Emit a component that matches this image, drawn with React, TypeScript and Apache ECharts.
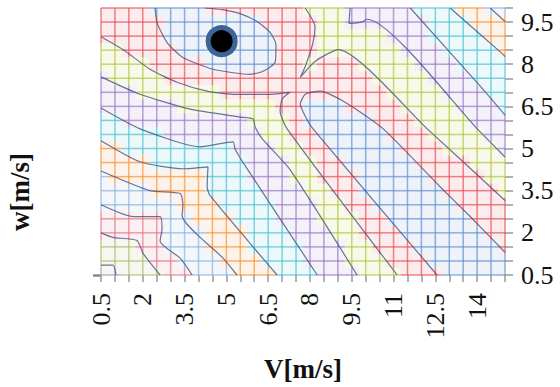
import React, { useEffect, useRef } from "react";
import * as echarts from "echarts";

// mesh node positions
const meshV = [0.5, 1, 1.5, 2, 2.5, 3, 3.5, 4, 4.5, 5, 5.5, 6, 6.5, 7, 7.5, 8, 8.5, 9, 9.5, 10, 10.5, 11, 11.5, 12, 12.5, 13, 13.5, 14, 14.5, 15];
const meshW = [10, 9.5, 9, 8.5, 8, 7.5, 7, 6.5, 6, 5.5, 5, 4.5, 4, 3.5, 3, 2.5, 2, 1.5, 1, 0.5];

// contour band index at every mesh node (row = w from top, column = V)
const bandRows = [
  "111100001111111222333334445566",
  "111110000000111122333333444555",
  "111110000000011122222333444455",
  "221111000000011122222233344445",
  "222211110000011211122223334444",
  "322221111111111111112222333444",
  "333222222111111111111222233344",
  "333333222222211000111122223334",
  "443333333332221000001112222333",
  "444443333333221100000111222233",
  "554444444433322110000011122223",
  "555544444443332211000001111222",
  "655555554443332211100000111122",
  "666655554444333221100000011112",
  "666666555444433322110000001111",
  "777776655544433322211000000111",
  "777776665554443332211100000011",
  "888776665554444333221110000001",
  "888877666555444333222111000000",
  "998887766655544433322211100000",
];

// contour lines [V, w]
const contourMin = [[2.44, 10], [2.51, 9.48], [2.87, 8.77], [3.44, 8.24], [4.52, 7.82], [5.85, 7.64], [6.32, 7.75], [6.75, 8.07], [6.78, 8.7], [6.57, 9.13], [6.1, 9.52], [5.49, 9.8], [4.84, 9.94], [4.23, 10]];
const contourValley = [[12.56, 0.5], [8.11, 5.7], [7.83, 6.15], [7.65, 6.58], [7.83, 6.93], [8.36, 7.04], [9.26, 6.65], [10.63, 5.7], [12.67, 3.64], [13.75, 2.58], [14.93, 1.38], [15, 1.31]];
const contour2A = [[0.5, 8.98], [1.29, 8.52], [2.26, 7.82], [3.23, 7.36], [4.31, 7.04], [5.24, 6.93], [6.57, 6.93], [7.29, 7.0], [7.0, 6.76], [6.93, 6.33], [7.18, 5.7], [11.13, 0.5]];
const contour2B = [[7.83, 10], [8.18, 9.34], [8.11, 8.77], [7.83, 7.92], [7.65, 7.53], [8.18, 8.1], [9.01, 8.52], [12.21, 5.7], [15, 3.15]];
const contour3L = [[0.5, 7.55], [1.9, 6.93], [3.7, 6.4], [5.49, 6.12], [5.96, 6.05], [6.03, 5.77], [6.28, 5.35], [7.29, 4.24], [9.69, 0.5]];
const contour3R = [[9.44, 10], [9.4, 9.45], [9.85, 9.5], [10.05, 9.6], [14.11, 5.59], [15, 4.7]];
const contour4L = [[0.5, 6.44], [1.9, 5.7], [4.05, 5.06], [5.24, 5.24], [5.31, 4.99], [5.6, 4.5], [8.26, 0.5]];
const contour4R = [[11.6, 10], [14.11, 7.22], [15, 6.19]];
const contour5L = [[0.5, 5.28], [1.9, 4.53], [3.44, 4.28], [4.34, 4.35], [4.31, 3.64], [4.41, 3.33], [6.82, 0.5]];
const contour5R = [[13.03, 10], [14.93, 8.35], [15, 8.27]];
const contour6L = [[0.5, 4.2], [2.26, 3.5], [3.34, 3.4], [3.44, 2.97], [3.41, 2.62], [4.88, 1.1], [5.38, 0.5]];
const contour6R = [[14.47, 10], [15, 9.52]];
const contour7 = [[0.5, 3.0], [1.65, 2.58], [2.62, 2.58], [2.69, 2.15], [2.62, 1.7], [3.34, 1.1], [3.77, 0.5]];
const contour8 = [[0.5, 2.0], [0.93, 1.84], [1.79, 1.73], [2.01, 1.27], [2.62, 0.5]];
const contour9 = [[0.5, 0.85], [0.93, 0.85], [1.04, 0.5]];

const contours = [contourMin, contourValley, contour2A, contour2B, contour3L, contour3R, contour4L, contour4R, contour5L, contour5R, contour6L, contour6R, contour7, contour8, contour9];

const optimumPoint = [4.83, 8.82];

const xTickLabels = ["0.5", "2", "3.5", "5", "6.5", "8", "9.5", "11", "12.5", "14"];
const yTickLabels = ["0.5", "2", "3.5", "5", "6.5", "8", "9.5"];

const bandColors = ["#5a8ad0", "#e2494e", "#b3c23a", "#9474c2", "#45bfd0", "#f68d2e", "#86b0dc", "#e2707f", "#a9b86a", "#9a9a9a"];

function hexToRgba(hex: string, a: number) {
  const n = parseInt(hex.slice(1), 16);
  return `rgba(${(n >> 16) & 255},${(n >> 8) & 255},${n & 255},${a})`;
}

const FONT = "'Liberation Serif', 'DejaVu Serif', serif";

export default function App() {
  const ref = useRef<HTMLDivElement>(null);

  useEffect(() => {
    if (!ref.current) return;
    const chart = echarts.init(ref.current, undefined, { renderer: "svg" });

    const tiles: number[][] = [];
    const segs: number[][] = [];
    for (let i = 0; i < meshW.length; i++) {
      for (let j = 0; j < meshV.length; j++) {
        const b = +bandRows[i][j];
        const v = meshV[j];
        const w = meshW[i];
        tiles.push([v, w, b]);
        if (j < meshV.length - 1) {
          const vn = meshV[j + 1];
          const mid = (v + vn) / 2;
          segs.push([v, w, mid, w, b]);
          segs.push([mid, w, vn, w, +bandRows[i][j + 1]]);
        }
        if (i < meshW.length - 1) {
          const wn = meshW[i + 1];
          const mid = (w + wn) / 2;
          segs.push([v, w, v, mid, b]);
          segs.push([v, mid, v, wn, +bandRows[i + 1][j]]);
        }
      }
    }

    const fmt = (set: string[]) => (val: number) => {
      const s = String(+val.toFixed(2));
      return set.indexOf(s) >= 0 ? s : "";
    };

    const contourSeries = contours.map((c) => ({
      type: "line",
      data: c,
      showSymbol: false,
      symbol: "none",
      smooth: 0.2,
      silent: true,
      z: 4,
      lineStyle: { color: "rgba(66,78,128,0.78)", width: 1.2 },
    }));

    const option: any = {
      animation: false,
      backgroundColor: "#ffffff",
      grid: { left: 101, right: 55, top: 8, bottom: 110, containLabel: false },
      xAxis: {
        type: "value",
        min: 0.5,
        max: 15,
        interval: 0.5,
        name: "V[m/s]",
        nameLocation: "middle",
        nameGap: 80,
        nameTextStyle: { fontFamily: FONT, fontSize: 27, fontWeight: "bold", color: "#111" },
        axisLine: { show: false },
        axisTick: { show: true, length: 7, lineStyle: { color: "#999", width: 1.5 } },
        splitLine: { show: false },
        axisLabel: { formatter: fmt(xTickLabels), rotate: 90, margin: 18, fontFamily: FONT, fontSize: 26, color: "#111" },
      },
      yAxis: [
        {
          type: "value",
          position: "right",
          min: 0.5,
          max: 10,
          interval: 0.5,
          axisLine: { show: false },
          axisTick: { show: true, length: 8, lineStyle: { color: "#999", width: 1.5 } },
          splitLine: { show: false },
          axisLabel: { formatter: fmt(yTickLabels), margin: 16, fontFamily: FONT, fontSize: 26, color: "#111" },
        },
        {
          type: "value",
          position: "left",
          min: 0.5,
          max: 10,
          interval: 0.5,
          axisLine: { show: false },
          axisTick: { show: true, customValues: [0.5], length: 8, lineStyle: { color: "#888", width: 2.5 } },
          splitLine: { show: false },
          axisLabel: { show: false },
        },
      ],
      graphic: [
        {
          type: "text",
          x: 20,
          y: 192,
          rotation: Math.PI / 2,
          style: {
            text: "w[m/s]",
            font: `bold 27px ${FONT}`,
            fill: "#111",
            align: "center",
            verticalAlign: "middle",
          },
        },
      ],
      series: [
        {
          type: "custom",
          silent: true,
          z: 1,
          data: tiles,
          encode: { x: 0, y: 1 },
          renderItem: (params: any, api: any) => {
            const v = api.value(0);
            const w = api.value(1);
            const b = api.value(2);
            const p0 = api.coord([Math.max(v - 0.25, 0.5), Math.min(w + 0.25, 10)]);
            const p1 = api.coord([Math.min(v + 0.25, 15), Math.max(w - 0.25, 0.5)]);
            return {
              type: "rect",
              shape: { x: p0[0], y: p0[1], width: p1[0] - p0[0], height: p1[1] - p0[1] },
              style: { fill: hexToRgba(bandColors[b], 0.1), stroke: null },
            };
          },
        },
        {
          type: "custom",
          silent: true,
          z: 2,
          data: segs,
          encode: { x: [0, 2], y: [1, 3] },
          renderItem: (params: any, api: any) => {
            const a = api.coord([api.value(0), api.value(1)]);
            const c = api.coord([api.value(2), api.value(3)]);
            return {
              type: "line",
              shape: { x1: a[0], y1: a[1], x2: c[0], y2: c[1] },
              style: { stroke: hexToRgba(bandColors[api.value(4)], 0.68), lineWidth: 1.5 },
            };
          },
        },
        ...contourSeries,
        {
          type: "scatter",
          data: [optimumPoint],
          symbol: "circle",
          symbolSize: 27,
          z: 6,
          silent: true,
          itemStyle: { color: "#000", borderColor: "#3c6496", borderWidth: 5, opacity: 1 },
        },
      ],
    };

    chart.setOption(option);
    return () => chart.dispose();
  }, []);

  return <div ref={ref} style={{ position: "absolute", left: 0, top: 0, width: 560, height: 387 }} />;
}
